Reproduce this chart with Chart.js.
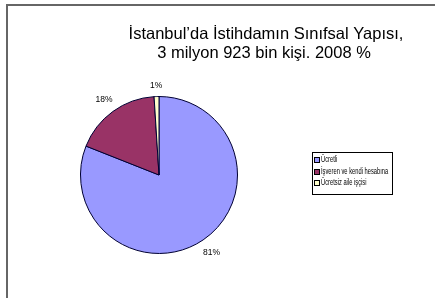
<!DOCTYPE html>
<html><head><meta charset="utf-8">
<script src="https://cdn.jsdelivr.net/npm/chart.js@4"></script>
<style>html,body{margin:0;padding:0;background:#fff;}#wrap{width:435px;height:298px;position:relative;}</style>
</head><body><div id="wrap"><canvas id="c" width="435" height="298"></canvas></div>
<script>
const titleLines = ["İstanbul’da İstihdamın Sınıfsal Yapısı,", "3 milyon 923 bin kişi. 2008 %"];
const categories = ["Ücretli", "İşveren ve kendi hesabına", "Ücretsiz aile işçisi"];
const values = [81, 18, 1];
const valueLabels = ["81%", "18%", "1%"];
const colors = ["#9999FF", "#993366", "#FFFFCC"];

const framePlugin = {
  id: 'frame',
  beforeDraw(chart) {
    const ctx = chart.ctx;
    ctx.save();
    ctx.fillStyle = '#fff';
    ctx.fillRect(0, 0, chart.width, chart.height);
    ctx.strokeStyle = '#666';
    ctx.lineWidth = 2;
    ctx.beginPath();
    ctx.moveTo(7, chart.height);
    ctx.lineTo(7, 5);
    ctx.lineTo(chart.width, 5);
    ctx.stroke();
    ctx.restore();
  }
};

const titlePlugin = {
  id: 'titleText',
  afterDraw(chart) {
    const ctx = chart.ctx;
    ctx.save();
    ctx.fillStyle = '#000';
    ctx.font = '16.5px "Liberation Sans", Arial, sans-serif';
    ctx.textAlign = 'center';
    ctx.textBaseline = 'middle';
    ctx.fillText(titleLines[0], 266, 34);
    ctx.fillText(titleLines[1], 264, 53);
    ctx.restore();
  }
};

const labelPlugin = {
  id: 'sliceLabels',
  afterDatasetsDraw(chart) {
    const ctx = chart.ctx;
    const meta = chart.getDatasetMeta(0);
    ctx.save();
    ctx.fillStyle = '#000';
    ctx.font = '8.5px "Liberation Sans", Arial, sans-serif';
    ctx.textAlign = 'center';
    ctx.textBaseline = 'middle';
    meta.data.forEach((arc, i) => {
      const p = arc.getProps(['x', 'y', 'startAngle', 'endAngle', 'outerRadius'], true);
      const mid = (p.startAngle + p.endAngle) / 2;
      const r = p.outerRadius + (i === 2 ? 11 : 15);
      ctx.fillText(valueLabels[i], p.x + Math.cos(mid) * r, p.y + Math.sin(mid) * r);
    });
    ctx.restore();
  }
};

const legendPlugin = {
  id: 'boxLegend',
  afterDraw(chart) {
    const ctx = chart.ctx;
    const ds = chart.data.datasets[0];
    ctx.save();
    ctx.strokeStyle = '#000';
    ctx.lineWidth = 1;
    ctx.strokeRect(312.5, 152.5, 80, 42);
    ctx.textBaseline = 'middle';
    ctx.textAlign = 'left';
    chart.data.labels.forEach((lab, i) => {
      const y = 160 + i * 11.5;
      ctx.fillStyle = ds.backgroundColor[i];
      ctx.fillRect(314.5, Math.round(y) - 2.5, 5, 5);
      ctx.strokeStyle = '#000';
      ctx.strokeRect(314.5, Math.round(y) - 2.5, 5, 5);
      ctx.save();
      ctx.translate(321, y);
      ctx.scale(0.64, 1);
      ctx.font = '9px "Liberation Sans", Arial, sans-serif';
      ctx.fillStyle = '#000';
      ctx.fillText(lab, 0, 0);
      ctx.restore();
    });
    ctx.restore();
  }
};

new Chart(document.getElementById('c'), {
  type: 'pie',
  data: {
    labels: categories,
    datasets: [{
      data: values,
      backgroundColor: colors,
      borderColor: '#000033',
      borderWidth: 1
    }]
  },
  options: {
    responsive: false,
    animation: false,
    layout: { padding: { left: 40, right: 157, top: 96, bottom: 44 } },
    plugins: { legend: { display: false }, tooltip: { enabled: false }, title: { display: false } }
  },
  plugins: [framePlugin, titlePlugin, labelPlugin, legendPlugin]
});
</script>
</body></html>
